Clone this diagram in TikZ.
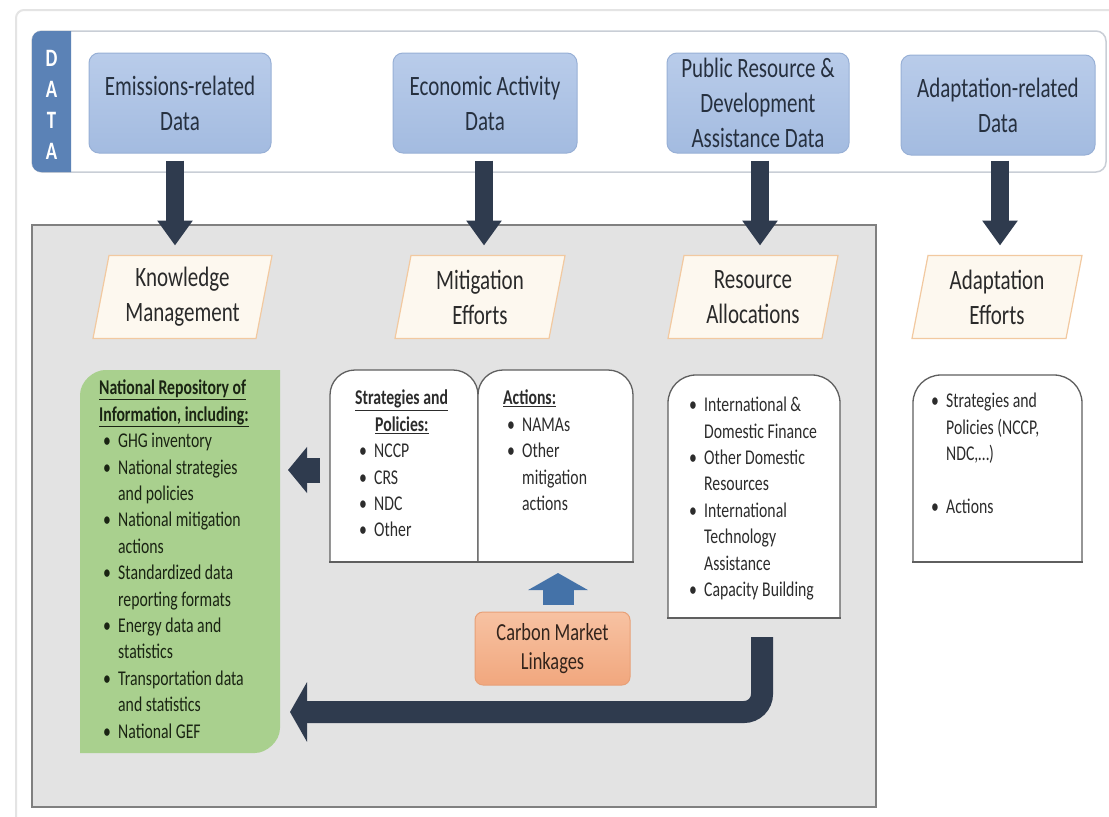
\documentclass[tikz,border=0pt]{standalone}
\usepackage{fontspec}
\setmainfont{Carlito}[FakeStretch=0.75]
\usetikzlibrary{arrows.meta,calc}
\definecolor{navy}{HTML}{2F3B4E}
\definecolor{stripblue}{HTML}{5B82B6}
\definecolor{dataedge}{HTML}{98B0D6}
\definecolor{datatop}{HTML}{B9CCEA}
\definecolor{databot}{HTML}{A3BBE0}
\definecolor{datatext}{HTML}{26303F}
\definecolor{creamfill}{HTML}{FDF8EF}
\definecolor{creamedge}{HTML}{F2C9A0}
\definecolor{paratext}{HTML}{2A2A2A}
\definecolor{grayfill}{HTML}{E3E3E3}
\definecolor{grayedge}{HTML}{808080}
\definecolor{greenfill}{HTML}{A9D08E}
\definecolor{greentext}{HTML}{1A2413}
\definecolor{tabedge}{HTML}{5F5F5F}
\definecolor{listtext}{HTML}{2C2C2C}
\definecolor{carbontop}{HTML}{F7C2A2}
\definecolor{carbonbot}{HTML}{F1A77E}
\definecolor{carbonedge}{HTML}{E8A077}
\definecolor{carbontext}{HTML}{33241C}
\definecolor{bluearr}{HTML}{4472A8}
\definecolor{bandedge}{HTML}{C9CED6}
\definecolor{framegray}{HTML}{E4E4E4}
\pgfdeclarelayer{bg}
\pgfdeclarelayer{back}
\pgfsetlayers{bg,back,main}
\newcommand\fsA{\fontsize{28}{35}\selectfont}
\newcommand\fsB{\fontsize{21}{26.4}\selectfont}
\newcommand\fsC{\fontsize{24.5}{29}\selectfont}
\newcommand\bi{\makebox[15pt][l]{\textbullet}}
\newcommand\ci{\hspace*{15pt}}
\begin{document}
\begin{tikzpicture}[x=1pt,y=-1pt,
  geom/.style={inner sep=0pt,outer sep=0pt},
  databox/.style={draw=dataedge,line width=1pt,top color=datatop,bottom color=databot,rounded corners=10pt,minimum height=100pt,inner sep=0pt,align=center,text=datatext,font=\fsA},
  parabox/.style={inner sep=0pt,outer sep=0pt,minimum height=83pt,align=center,text=paratext,font=\fsA},
  parast/.style={fill=creamfill,draw=creamedge,line width=1.2pt},
  tabst/.style={fill=white,draw=tabedge,line width=1.3pt},
  listtxt/.style={anchor=north west,inner sep=0pt,align=left,font=\fsB,text=listtext},
  carbonbox/.style={draw=carbonedge,line width=1pt,top color=carbontop,bottom color=carbonbot,rounded corners=8pt,minimum width=155pt,minimum height=73pt,inner sep=0pt,align=center,font=\fsC,text=carbontext},
  bigarrow/.style={draw=navy,line width=18pt,-{Triangle[length=25pt,width=34pt]}},
  smallarrow/.style={draw=navy,line width=25pt,-{Triangle[length=19pt,width=45pt]}},
  uarrow/.style={draw=navy,line width=22pt,rounded corners=18pt,-{Triangle[length=17pt,width=59pt]}},
  bluearrow/.style={draw=bluearr,line width=31pt,-{Triangle[length=17pt,width=59pt]}}
]
\useasboundingbox (0,0) rectangle (1109,817);

% ---------- background layer ----------
\begin{pgfonlayer}{bg}
  \fill[white] (0,0) rectangle (1109,817);
  \draw[framegray,line width=2pt,rounded corners=8pt] (16,817) -- (16,10) -- (1109,10);
  % DATA band
  \draw[bandedge,fill=white,line width=1.5pt,rounded corners=10pt] (32,31) rectangle (1106,172);
  \fill[stripblue,rounded corners=9pt] (71,31) -- (32,31) -- (32,172) -- (71,172);
  % grey container
  \draw[grayedge,fill=grayfill,line width=1.5pt] (32,225) rectangle (876,807);
\end{pgfonlayer}

% ---------- DATA label ----------
\node[font=\bfseries\fontsize{25}{31}\selectfont,text=white,align=center,inner sep=0pt] (datalbl) at (51.5,105) {D\\A\\T\\A};

% ---------- data boxes ----------
\node[databox,minimum width=182pt] (emis) at (180,103) {Emissions-related\\Data};
\node[databox,minimum width=184pt] (econ) at (485,103) {Economic Activity\\Data};
\node[databox,minimum width=182pt] (pub) at (758,103) {Public Resource \&\\Development\\Assistance Data};
\node[databox,minimum width=194pt] (adata) at (998,105) {Adaptation-related\\Data};

% ---------- parallelograms ----------
\node[parabox,minimum width=179pt] (km) at (182.5,297) {Knowledge\\Management};
\node[parabox,minimum width=170pt] (me) at (480,297) {Mitigation\\Efforts};
\node[parabox,minimum width=170pt] (ra) at (753,297) {Resource\\Allocations};
\node[parabox,minimum width=170pt] (ae) at (997,297) {Adaptation\\Efforts};

% ---------- geometry nodes ----------
\node[geom,minimum width=200pt,minimum height=383pt] (green) at (180,561.5) {};
\node[geom,minimum width=148pt,minimum height=192pt] (tabL) at (404,466) {};
\node[geom,minimum width=155pt,minimum height=192pt] (tabR) at (555.5,466) {};
\node[geom,minimum width=172pt,minimum height=243pt] (resb) at (754,496.5) {};
\node[geom,minimum width=169pt,minimum height=187pt] (adb) at (997.5,468.5) {};

% ---------- shapes on back layer ----------
\begin{pgfonlayer}{back}
  \foreach \n in {km,me,ra,ae}
    \filldraw[parast] (\n.south west) -- ($(\n.north west)+(16,0)$) -- (\n.north east) -- ($(\n.south east)+(-16,0)$) -- cycle;
  \foreach \n in {tabL,tabR}{
    \filldraw[tabst,rounded corners=25pt] (\n.south west) -- (\n.north west) -- (\n.north east) -- (\n.south east);
    \draw[tabst,line cap=rect] (\n.south west) -- (\n.south east);
  }
  \foreach \n in {resb,adb}{
    \filldraw[tabst,rounded corners=28pt] (\n.south west) -- (\n.north west) -- (\n.north east) -- (\n.south east);
    \draw[tabst,line cap=rect] (\n.south west) -- (\n.south east);
  }
  % green repository box (top-left and bottom-right rounded)
  \fill[greenfill] (80,395) .. controls (80,381.2) and (93.8,370) .. (105,370) -- (280,370) -- (280,728)
     .. controls (280,741.8) and (266.2,753) .. (255,753) -- (80,753) -- cycle;
\end{pgfonlayer}

% ---------- texts ----------
\node[listtxt,text=greentext] (greentxt) at (99,380) {%
\textbf{\underline{National Repository of}}\\
\textbf{\underline{Information, including:}}\\
\hspace*{4pt}\bi GHG inventory\\
\hspace*{4pt}\bi National strategies\\
\hspace*{4pt}\ci and policies\\
\hspace*{4pt}\bi National mitigation\\
\hspace*{4pt}\ci actions\\
\hspace*{4pt}\bi Standardized data\\
\hspace*{4pt}\ci reporting formats\\
\hspace*{4pt}\bi Energy data and\\
\hspace*{4pt}\ci statistics\\
\hspace*{4pt}\bi Transportation data\\
\hspace*{4pt}\ci and statistics\\
\hspace*{4pt}\bi National GEF};

\node[listtxt] (tabLtxt) at (355,390) {%
\textbf{\underline{Strategies and}}\\
\hspace*{20pt}\textbf{\underline{Policies:}}\\
\hspace*{4pt}\bi NCCP\\
\hspace*{4pt}\bi CRS\\
\hspace*{4pt}\bi NDC\\
\hspace*{4pt}\bi Other};

\node[listtxt] (tabRtxt) at (503,390) {%
\textbf{\underline{Actions:}}\\
\hspace*{4pt}\bi NAMAs\\
\hspace*{4pt}\bi Other\\
\hspace*{4pt}\ci mitigation\\
\hspace*{4pt}\ci actions};

\node[listtxt] (restxt) at (689,397) {%
\bi International \&\\
\ci Domestic Finance\\
\bi Other Domestic\\
\ci Resources\\
\bi International\\
\ci Technology\\
\ci Assistance\\
\bi Capacity Building};

\node[listtxt] (adtxt) at (931,393) {%
\bi Strategies and\\
\ci Policies (NCCP,\\
\ci NDC,…)\\[26.4pt]
\bi Actions};

\node[carbonbox] (carbon) at (552.5,648.5) {Carbon Market\\Linkages};

% ---------- connectors ----------
\coordinate (a1) at ($(emis.south)+(-5,7)$);
\draw[bigarrow,shorten >=10pt] (a1) -- (a1 |- km.north);
\coordinate (a2) at ($(econ.south)+(-1,7)$);
\draw[bigarrow,shorten >=10pt] (a2) -- (a2 |- me.north);
\coordinate (a3) at ($(pub.south)+(2,7)$);
\draw[bigarrow,shorten >=10pt] (a3) -- (a3 |- ra.north);
\coordinate (a4) at ($(adata.south)+(2,5)$);
\draw[bigarrow,shorten >=10pt] (a4) -- (a4 |- ae.north);

\coordinate (s1) at ($(tabL.west)+(-10,4)$);
\draw[smallarrow,shorten >=8pt] (s1) -- (s1 -| green.east);

\coordinate (b1) at ($(carbon.north)+(5.5,-7)$);
\draw[bluearrow,shorten >=11pt] (b1) -- (b1 |- tabR.south);

\coordinate (u1) at ($(resb.south)+(8,19)$);
\coordinate (u2) at ($(u1)+(0,75)$);
\draw[uarrow,shorten >=10pt] (u1) -- (u2) -- (u2 -| green.east);
\end{tikzpicture}
\end{document}
